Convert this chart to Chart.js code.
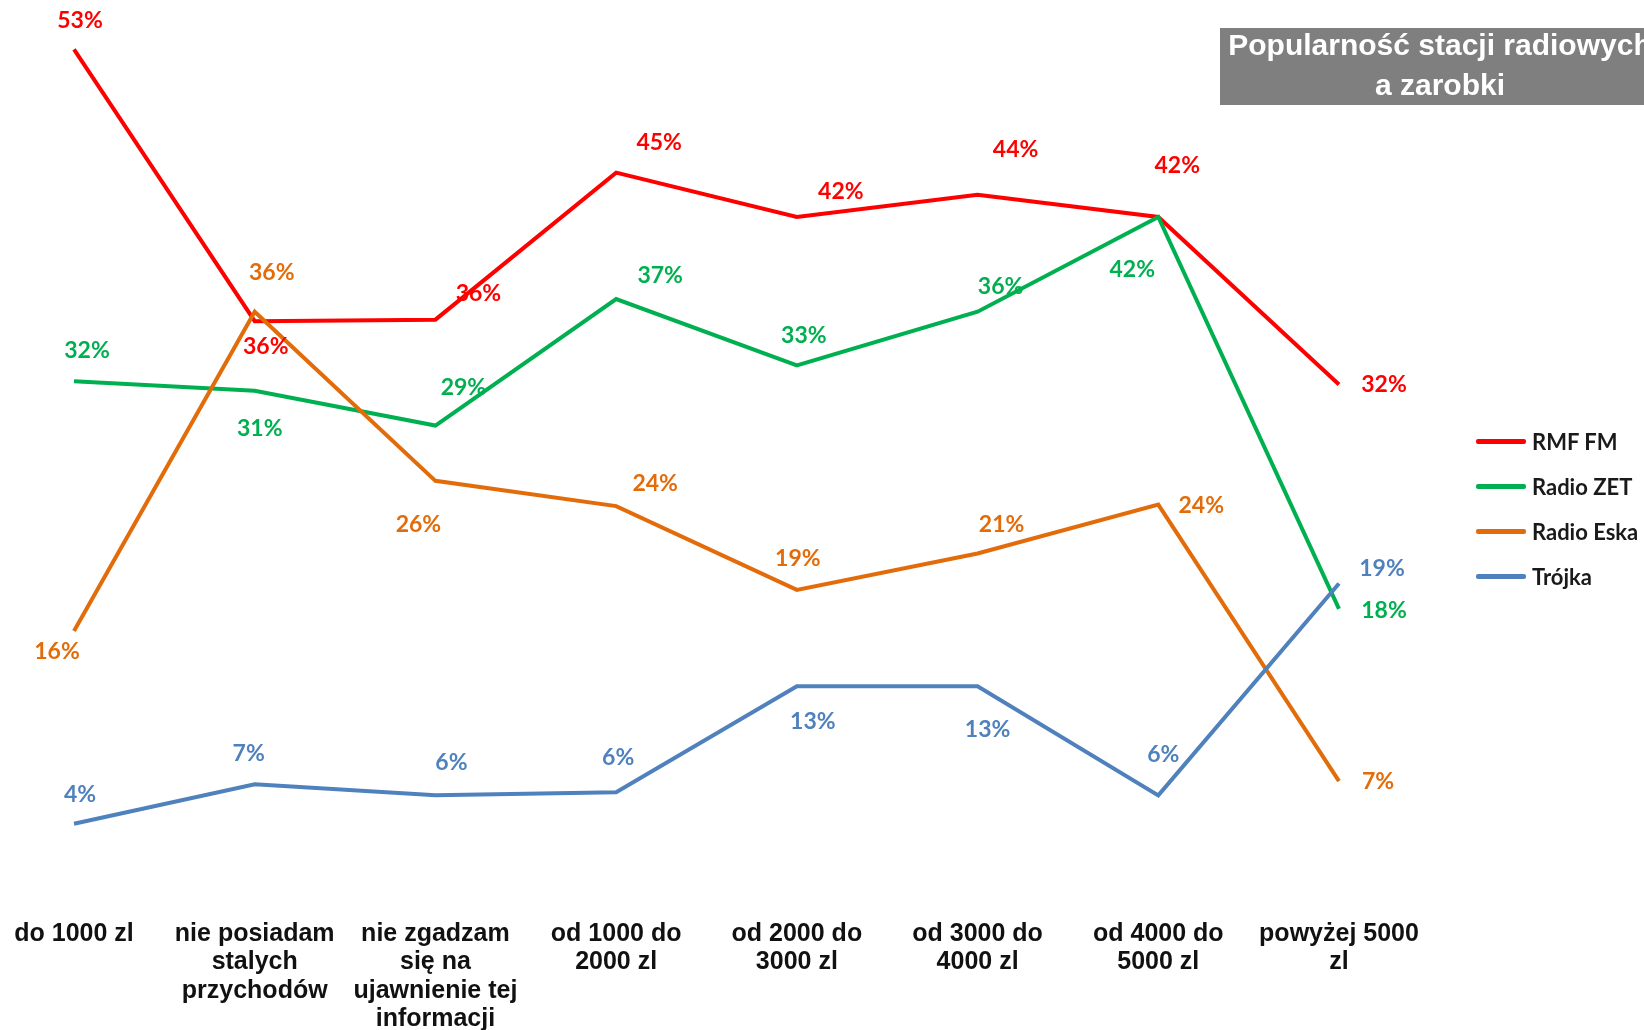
<!DOCTYPE html>
<html>
<head>
<meta charset="utf-8">
<script src="https://cdn.jsdelivr.net/npm/chart.js@4/dist/chart.umd.min.js"></script>
<style>
  html,body{margin:0;padding:0;background:#fff;overflow:hidden}
  #wrap{position:relative;width:1644px;height:1030px}
  #title{position:absolute;left:1220px;top:28px;width:440px;height:77px;background:#7f7f7f;color:#fff;
    font:bold 30px "Liberation Sans",Arial,sans-serif;text-align:center;line-height:40px;white-space:nowrap}
  #title div{position:relative;top:-3px}
  #legend{position:absolute;left:1476px;top:419px}
  .lg-row{display:flex;align-items:center;height:45px;font:bold 22px Lato,sans-serif;color:#1a1a1a}
  .lg-line{width:50px;height:5px;border-radius:2px;margin-right:6px}
</style>
</head>
<body>
<div id="wrap">
  <canvas id="chart"></canvas>
  <div id="title"><div>Popularność stacji radiowych<br>a zarobki</div></div>
  <div id="legend"></div>
</div>
<script>
const categories = [
  ['do 1000 zl'],
  ['nie posiadam','stalych','przychodów'],
  ['nie zgadzam','się na','ujawnienie tej','informacji'],
  ['od 1000 do','2000 zl'],
  ['od 2000 do','3000 zl'],
  ['od 3000 do','4000 zl'],
  ['od 4000 do','5000 zl'],
  ['powyżej 5000','zl']
];
const seriesNames = ['RMF FM','Radio ZET','Radio Eska','Trójka'];
const rmfFm     = [53.0, 35.8, 35.9, 45.2, 42.4, 43.8, 42.4, 31.8];
const radioZet  = [32.0, 31.4, 29.2, 37.2, 33.0, 36.4, 42.4, 17.6];
const radioEska = [16.2, 36.4, 25.7, 24.1, 18.8, 21.1, 24.2, 6.7];
const trojka    = [4.0, 6.5, 5.8, 6.0, 12.7, 12.7, 5.8, 19.2];

const colors = ['#ff0000','#00b050','#e36c0a','#4f81bd'];

// where each value label sits relative to its point (px)
const labelOffsets = [
  [[6,-29],[11,25],[43,-26],[43,-30],[44,-25],[38,-45],[19,-51],[45,0]],
  [[13,-31],[5,38],[28,-38],[44,-24],[7,-30],[23,-25],[-26,53],[45,2]],
  [[-17,21],[17,-39],[-17,44],[39,-23],[1,-31],[24,-29],[43,1],[39,0]],
  [[6,-29],[-6,-31],[16,-33],[2,-35],[16,35],[10,43],[5,-41],[43,-15]]
];

const valueLabels = {
  id:'valueLabels',
  afterDatasetsDraw(chart){
    const ctx = chart.ctx;
    ctx.save();
    ctx.font = 'bold 23px Lato, sans-serif';
    ctx.textAlign = 'center'; ctx.textBaseline = 'middle';
    chart.data.datasets.forEach((ds,i)=>{
      const meta = chart.getDatasetMeta(i);
      ctx.fillStyle = ds.borderColor;
      meta.data.forEach((pt,j)=>{
        const off = labelOffsets[i][j];
        ctx.fillText(Math.round(ds.data[j])+'%', pt.x+off[0], pt.y+off[1]);
      });
    });
    ctx.restore();
  }
};

const allSeries = [rmfFm, radioZet, radioEska, trojka];
const datasets = allSeries.map((d,i)=>({
  label:seriesNames[i], data:d, borderColor:colors[i], backgroundColor:colors[i],
  borderWidth:4, pointRadius:0, tension:0, fill:false, order:4-i
}));

new Chart(document.getElementById('chart').getContext('2d'), {
  type:'line',
  data:{labels:categories, datasets},
  options:{
    responsive:true, maintainAspectRatio:false, animation:false,
    layout:{padding:{left:74, right:305, top:2, bottom:0}},
    plugins:{legend:{display:false}, tooltip:{enabled:false}},
    scales:{
      x:{offset:false, grid:{display:false, drawTicks:false}, border:{display:false},
        ticks:{padding:33, color:'#111', maxRotation:0, autoSkip:false,
          font:{family:'"Liberation Sans", Arial, sans-serif', size:25, weight:'bold', lineHeight:1.13}},
        afterFit(s){ s.height = 143; s.paddingLeft = 0; s.paddingRight = 0; }},
      y:{display:false, min:0, max:56}
    }
  },
  plugins:[valueLabels]
});

const lg = document.getElementById('legend');
seriesNames.forEach((n,i)=>{
  const row = document.createElement('div'); row.className='lg-row';
  row.innerHTML = `<div class="lg-line" style="background:${colors[i]}"></div><span>${n}</span>`;
  lg.appendChild(row);
});
</script>
</body>
</html>
